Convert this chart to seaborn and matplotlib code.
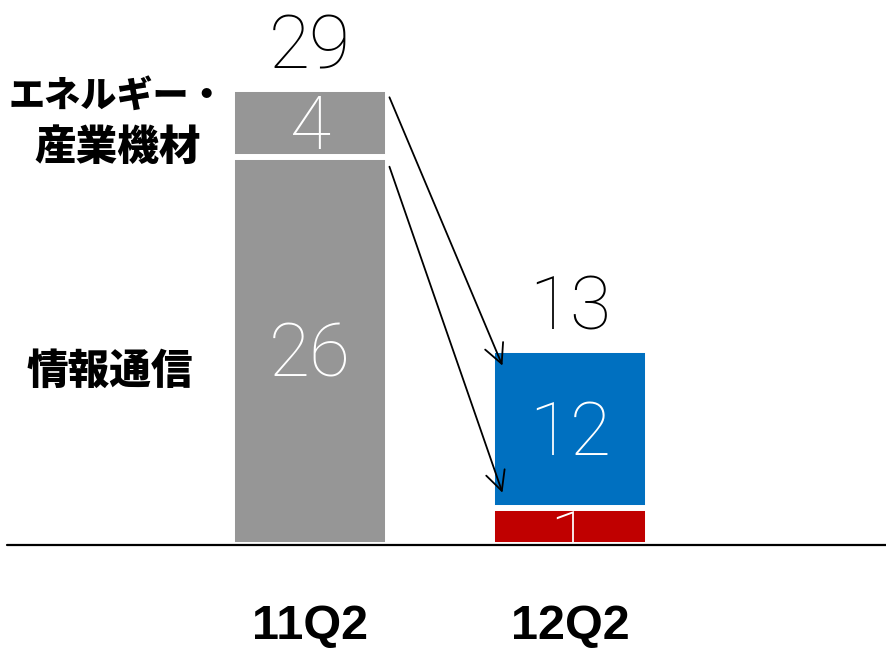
#!/usr/bin/env python3
"""
Stacked bar chart: 11Q2 vs 12Q2, two segments per bar with arrows between them
"""

import numpy as np
import pandas as pd
import matplotlib
matplotlib.use("Agg")
import matplotlib.pyplot as plt
import seaborn as sns
from matplotlib.transforms import TransformedBbox

# Data
quarters = ["11Q2", "12Q2"]
total_heights = [29.2, 12.5]      # drawn height of the whole bar
lower_heights = [24.9, 2.35]      # drawn height of the bottom segment
total_labels = ["29", "13"]
upper_labels = ["4", "12"]
lower_labels = ["26", "1"]
upper_colors = ["#969696", "#0070C0"]
lower_colors = ["#969696", "#C00000"]
segment_names = ["エネルギー・", "産業機材", "情報通信"]

# Layout (pixels of the 886x650 picture)
W_PX, H_PX = 886, 650
BASE_PX = 545          # y of the baseline
PX_PER_UNIT = 15.6     # vertical scale
X0_PX, DX_PX = 310.2, 259.8   # centre of first bar, distance between bars
BAR_W = 0.6
GAP_LW = 4.3           # white gap between segments (pt)

DIGIT_FONT = ["Roboto", "DejaVu Sans"]
DIGIT_WEIGHT = "light"
DIGIT_SIZE = 54
DROP = 1.67            # baseline sits this far below the segment middle


def main():
    sns.set_style("white")
    plt.rcParams['font.family'] = ['Noto Sans CJK JP', 'DejaVu Sans']
    plt.rcParams['text.color'] = 'black'

    fig = plt.figure(figsize=(W_PX / 100, H_PX / 100), dpi=100)
    ax = fig.add_axes([0, 0, 1, 1])

    df = pd.DataFrame({"quarter": quarters,
                       "total": total_heights,
                       "lower": lower_heights})

    # full bar first, then the bottom segment over it (white edge = gap)
    sns.barplot(data=df, x="quarter", y="total", hue="quarter",
                palette=upper_colors, saturation=1, width=BAR_W,
                edgecolor="white", linewidth=GAP_LW, legend=False, ax=ax)
    sns.barplot(data=df, x="quarter", y="lower", hue="quarter",
                palette=lower_colors, saturation=1, width=BAR_W,
                edgecolor="white", linewidth=GAP_LW, legend=False, ax=ax)

    ax.set_xlim(-X0_PX / DX_PX, (W_PX - X0_PX) / DX_PX)
    ax.set_ylim(-(H_PX - BASE_PX) / PX_PER_UNIT, BASE_PX / PX_PER_UNIT)
    ax.axis('off')

    ax.axhline(0, xmin=7 / W_PX, xmax=1, color="black", lw=1.6, zorder=5)

    lower_pos = [0.5, 0.2]   # where the label sits inside the bottom segment
    for i in range(len(quarters)):
        tot, low = total_heights[i], lower_heights[i]
        ax.text(i, tot + 1.33, total_labels[i], ha="center", va="baseline",
                fontsize=DIGIT_SIZE, family=DIGIT_FONT, weight=DIGIT_WEIGHT,
                color="black")
        ax.text(i, (tot + low) / 2 - DROP, upper_labels[i], ha="center",
                va="baseline", fontsize=DIGIT_SIZE, family=DIGIT_FONT,
                weight=DIGIT_WEIGHT, color="white")
        t = ax.text(i, low * lower_pos[i] - DROP, lower_labels[i],
                    ha="center", va="baseline", fontsize=DIGIT_SIZE,
                    family=DIGIT_FONT, weight=DIGIT_WEIGHT, color="white")
        patch = ax.patches[len(quarters) + i]
        t.set_clip_box(TransformedBbox(patch.get_bbox(), ax.transData))

        ax.text(i, -6.0, quarters[i], ha="center", va="baseline",
                fontsize=35, family=["Liberation Sans", "DejaVu Sans"],
                weight="bold", color="black")

    # arrows from the 11Q2 segments to the 12Q2 bar
    x_from = BAR_W / 2 + 0.005
    x_to = 1 - BAR_W / 2 + 0.04
    starts = [total_heights[0] - 0.5, lower_heights[0] - 0.65]
    ends = [total_heights[1] - 1.0, lower_heights[1] + 1.0]
    for ys, ye in zip(starts, ends):
        ax.annotate("", xy=(x_to, ye), xytext=(x_from, ys),
                    arrowprops=dict(arrowstyle="->", color="black", lw=1.3,
                                    shrinkA=0, shrinkB=0, mutation_scale=35))

    # segment names on the left
    fig.text(117 / W_PX, 1 - 96 / H_PX, segment_names[0], ha="center",
             va="center", fontsize=26, weight="heavy", color="black")
    fig.text(118 / W_PX, 1 - 148 / H_PX, segment_names[1], ha="center",
             va="center", fontsize=30, weight="heavy", color="black")
    fig.text(110 / W_PX, 1 - 372 / H_PX, segment_names[2], ha="center",
             va="center", fontsize=30, weight="heavy", color="black")

    fig.savefig("out.png", dpi=100)


if __name__ == "__main__":
    main()
